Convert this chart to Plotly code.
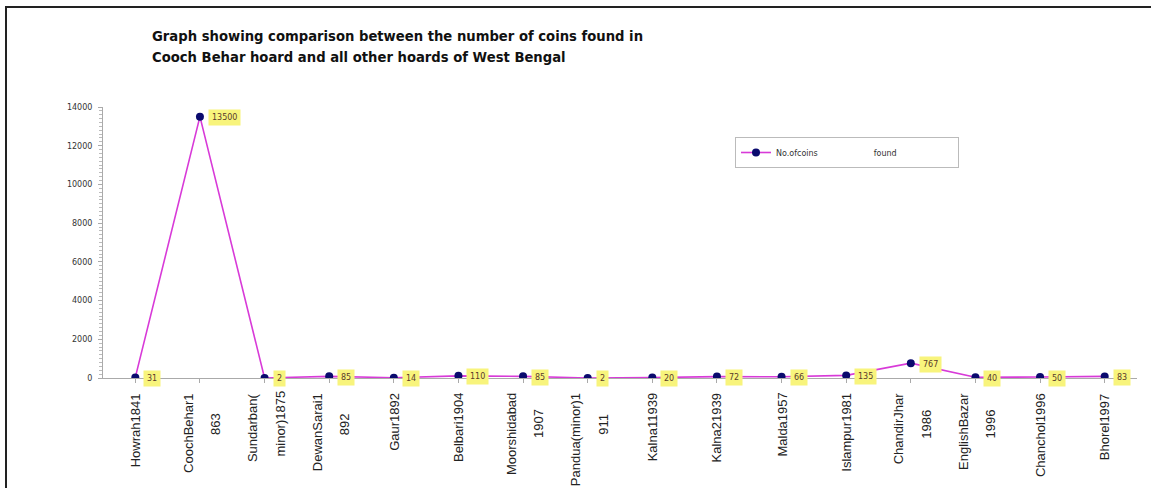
import plotly.graph_objects as go

# Hoards of West Bengal and the number of coins found in each
hoards = [
    "Howrah1841", "CoochBehar1|863", "Sundarban(|minor)1875", "DewanSarai1|892",
    "Gaur1892", "Belbari1904", "Moorshidabad|1907", "Pandua(minor)1|911",
    "Kalna11939", "Kalna21939", "Malda1957", "Islampur1981",
    "ChandirJhar|1986", "EnglishBazar|1996", "Chanchol1996", "Bhorel1997",
]
coins = [31, 13500, 2, 85, 14, 110, 85, 2, 20, 72, 66, 135, 767, 40, 50, 83]
y_ticks = [0, 2000, 4000, 6000, 8000, 10000, 12000, 14000]
series_name = "No.ofcoins" + "\u00a0" * 22 + "found" + "\u00a0" * 22
title_lines = [
    "Graph showing comparison between the number of coins found in",
    "Cooch Behar hoard and all other hoards of West Bengal",
]

WIDE = "DejaVu Sans, Verdana, sans-serif"
x_idx = list(range(len(hoards)))

fig = go.Figure()
fig.add_trace(go.Scatter(
    x=x_idx, y=coins, mode="lines+markers", name=series_name,
    line=dict(color="#d83ad8", width=1.6),
    marker=dict(color="#0a0a6e", size=8, symbol="circle"),
    showlegend=True,
))

# yellow value labels beside each point
for xi, v in zip(x_idx, coins):
    fig.add_annotation(
        x=xi, y=v, text=str(v), showarrow=False,
        xanchor="left", yanchor="middle", xshift=8, yshift=-1,
        bgcolor="#f8f47c", borderpad=3,
        font=dict(family=WIDE, size=8, color="#5a3a2a"),
    )

# category labels, rotated; wrapped names are split over two columns
label_font = dict(family="Liberation Sans Narrow, Arial Narrow, Liberation Sans, Arial, sans-serif",
                  size=13, color="#222")
for xi, name in zip(x_idx, hoards):
    parts = name.split("|")
    if len(parts) == 1:
        fig.add_annotation(x=xi, y=0, text=parts[0], textangle=-90, showarrow=False,
                           xanchor="center", yanchor="top", yshift=-13, font=label_font)
    else:
        fig.add_annotation(x=xi, y=0, text=parts[0], textangle=-90, showarrow=False,
                           xanchor="center", yanchor="top", yshift=-13, xshift=-12,
                           font=label_font)
        fig.add_annotation(x=xi, y=0, text=parts[1], textangle=-90, showarrow=False,
                           xanchor="center", yanchor="middle", yshift=-46, xshift=15,
                           font=label_font)

# two-line bold heading
for i, line in enumerate(title_lines):
    fig.add_annotation(
        xref="paper", yref="paper", x=(150 - 103) / 1034, y=(378 - 36 - 21 * i) / 271,
        xanchor="left", yanchor="middle", showarrow=False, align="left",
        text="<b>" + line + "</b>",
        font=dict(family=WIDE, size=13.2, color="#111"),
    )

# outer frame
fig.add_shape(
    type="rect", xref="paper", yref="paper",
    x0=(6 - 103) / 1034, x1=(1170 - 103) / 1034,
    y0=(378 - 520) / 271, y1=(378 - 7) / 271,
    line=dict(color="#222", width=2), layer="below",
)

fig.update_layout(
    width=1151, height=488,
    margin=dict(l=103, r=14, t=107, b=110),
    paper_bgcolor="white", plot_bgcolor="white",
    font=dict(family="Liberation Sans, Arial, sans-serif", color="#333"),
    legend=dict(
        x=(735 - 103) / 1034, y=(378 - 137) / 271, xanchor="left", yanchor="top",
        bordercolor="#bbb", borderwidth=1, bgcolor="white",
        font=dict(family=WIDE, size=8, color="#333"),
        itemwidth=30, tracegroupgap=0,
    ),
    xaxis=dict(
        range=[-0.5, len(hoards) - 0.5],
        tickmode="array", tickvals=x_idx, showticklabels=False,
        ticks="outside", tickson="boundaries", ticklen=4, tickcolor="#aaa",
        showgrid=False, zeroline=False,
        showline=True, linecolor="#aaa", linewidth=1,
    ),
    yaxis=dict(
        range=[0, 14000], tickmode="array", tickvals=y_ticks,
        ticktext=[str(t) for t in y_ticks],
        showgrid=False, zeroline=False,
        showline=True, linecolor="#aaa", linewidth=1,
        ticks="outside", ticklen=4, tickcolor="#aaa",
        minor=dict(dtick=200, ticks="outside", ticklen=3, tickcolor="#bbb"),
        tickfont=dict(family=WIDE, size=8, color="#333"),
        ticklabelstandoff=4,
    ),
)

fig.write_html("out.html")
